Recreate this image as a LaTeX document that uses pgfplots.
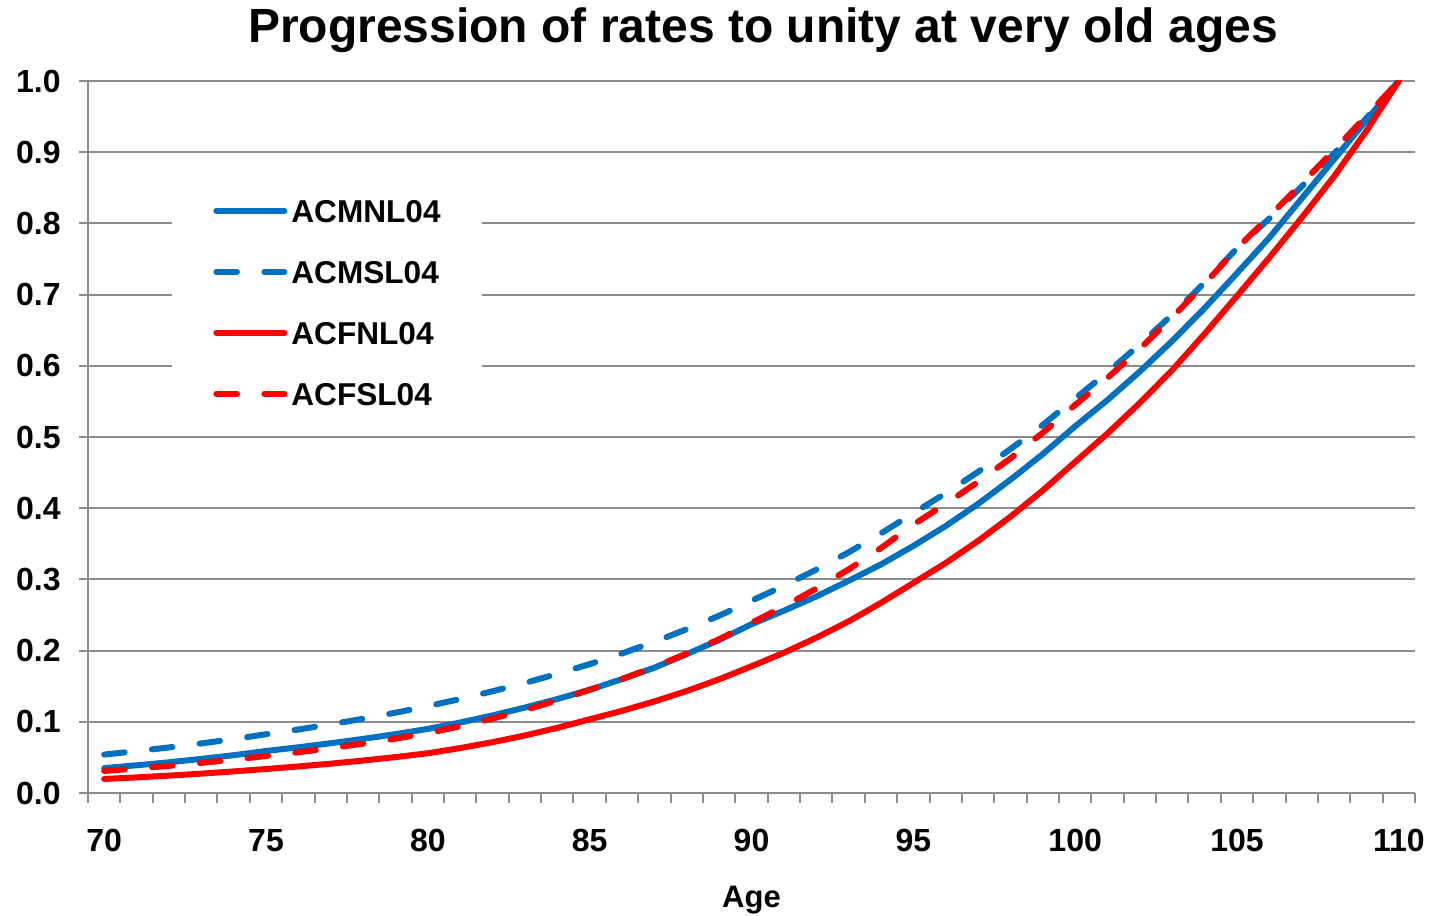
\documentclass[border=0pt]{standalone}
\usepackage{fontspec}
\setmainfont{Liberation Sans}
\usepackage{pgfplots}
\pgfplotsset{compat=1.18}
\definecolor{cblue}{HTML}{0070C0}
\definecolor{cred}{HTML}{FF0000}
\definecolor{cgrid}{HTML}{8C8C8C}
\begin{document}
\begin{tikzpicture}
\begin{axis}[name=ax, scale only axis, width=663.5bp, height=356bp,
  xmin=69.5, xmax=110.5, ymin=0, ymax=1,
  axis x line*=bottom, axis y line*=left,
  axis line style={cgrid, line width=1bp, -},
  xtick={70,75,80,85,90,95,100,105,110},
  minor xtick={69.5,70.5,...,110.5},
  major x tick style={draw=none},
  ytick={0,0.1,0.2,0.3,0.4,0.5,0.6,0.7,0.8,0.9,1.0},
  tick align=outside,
  major tick length=4.5bp, minor tick length=5bp,
  every tick/.style={cgrid, line width=1bp},
  minor tick style={cgrid, line width=1bp},
  ymajorgrids, grid style={cgrid, line width=1bp},
  /pgf/number format/assume math mode=true,
  ticklabel style={font=\bfseries\fontsize{16bp}{16bp}\selectfont, inner sep=0pt},
  yticklabel style={/pgf/number format/.cd, fixed, fixed zerofill, precision=1, /tikz/.cd, anchor=east, xshift=-9bp},
  xticklabel style={anchor=base, yshift=-24.5bp},
  legend style={at={(axis description cs:0.0633,0.8624)}, anchor=north west, draw=none, fill=white,
    font=\bfseries\fontsize{15.8bp}{15.8bp}\selectfont,
    inner xsep=20.5bp, inner ysep=10bp, row sep=19bp,
    nodes={inner sep=0pt, text height=11.5bp, text depth=0pt},
    /tikz/every odd column/.append style={column sep=2bp}},
  legend cell align=left,
  legend image code/.code={\draw[#1, line cap=round] (1.5bp,0bp) -- (35.5bp,0bp);},
]
\addplot[cblue, line width=3bp, line cap=round, line join=round] coordinates {
(70,0.035)(71,0.0389)(72,0.0431)(73,0.0479)(74,0.0531)(75,0.059)
(76,0.0642)(77,0.0699)(78,0.0760)(79,0.0827)(80,0.090)
(81,0.099)(82,0.109)(83,0.120)(84,0.132)(85,0.145)
(86,0.160)(87,0.176)(88,0.195)(89,0.215)(90,0.237)
(91,0.256)(92,0.276)(93,0.298)(94,0.321)(95,0.347)
(96,0.375)(97,0.406)(98,0.440)(99,0.476)(100,0.515)
(101,0.552)(102,0.592)(103,0.635)(104,0.681)(105,0.73)
(106,0.78)(107,0.835)(108,0.89)(109,0.945)(110,1.0)};
\addlegendentry{ACMNL04}
\addplot[cblue, line width=3bp, line cap=round, line join=round, dash pattern=on 10.3bp off 13.7bp] coordinates {
(70,0.054)(71,0.0588)(72,0.0640)(73,0.0696)(74,0.0758)(75,0.0825)
(76,0.0892)(77,0.0965)(78,0.1043)(79,0.1128)(80,0.122)
(81,0.132)(82,0.1429)(83,0.1546)(84,0.1673)(85,0.181)
(86,0.196)(87,0.2124)(88,0.230)(89,0.249)(90,0.270)
(91,0.291)(92,0.3137)(93,0.338)(94,0.3646)(95,0.393)
(96,0.421)(97,0.451)(98,0.483)(99,0.517)(100,0.554)
(101,0.591)(102,0.630)(103,0.672)(104,0.717)(105,0.765)
(106,0.807)(107,0.852)(108,0.898)(109,0.948)(110,1.0)};
\addlegendentry{ACMSL04}
\addplot[cred, line width=3bp, line cap=round, line join=round] coordinates {
(70,0.0197)(71,0.0219)(72,0.0244)(73,0.0272)(74,0.0303)(75,0.0337)
(76,0.0373)(77,0.0412)(78,0.0456)(79,0.0504)(80,0.0558)
(81,0.0631)(82,0.0714)(83,0.0808)(84,0.0915)(85,0.1035)
(86,0.1154)(87,0.1286)(88,0.1433)(89,0.1597)(90,0.178)
(91,0.197)(92,0.218)(93,0.241)(94,0.267)(95,0.295)
(96,0.323)(97,0.354)(98,0.388)(99,0.425)(100,0.465)
(101,0.505)(102,0.548)(103,0.594)(104,0.645)(105,0.698)
(106,0.752)(107,0.808)(108,0.866)(109,0.93)(110,1.0)};
\addlegendentry{ACFNL04}
\addplot[cred, line width=3bp, line cap=round, line join=round, dash pattern=on 10.3bp off 13.7bp] coordinates {
(70,0.031)(71,0.0344)(72,0.0381)(73,0.0423)(74,0.0469)(75,0.052)
(76,0.0572)(77,0.0630)(78,0.0693)(79,0.0763)(80,0.084)
(81,0.0937)(82,0.1045)(83,0.1165)(84,0.130)(85,0.145)
(86,0.160)(87,0.177)(88,0.196)(89,0.216)(90,0.239)
(91,0.262)(92,0.287)(93,0.314)(94,0.344)(95,0.377)
(96,0.406)(97,0.437)(98,0.470)(99,0.506)(100,0.545)
(101,0.583)(102,0.624)(103,0.668)(104,0.715)(105,0.765)
(106,0.810)(107,0.856)(108,0.903)(109,0.951)(110,1.0)};
\addlegendentry{ACFSL04}
\end{axis}
\node[anchor=base, font=\bfseries\fontsize{24bp}{24bp}\selectfont] at ([xshift=337.5bp, yshift=19bp]ax.north west) {Progression of rates to unity at very old ages};
\node[anchor=base, font=\bfseries\fontsize{15.5bp}{15.5bp}\selectfont] at ([yshift=-57bp]ax.south) {Age};
\pgfresetboundingbox
\path[use as bounding box] ([xshift=-44bp,yshift=-61.5bp]ax.south west) rectangle ([xshift=7.5bp,yshift=40.5bp]ax.north east);
\end{tikzpicture}
\end{document}
